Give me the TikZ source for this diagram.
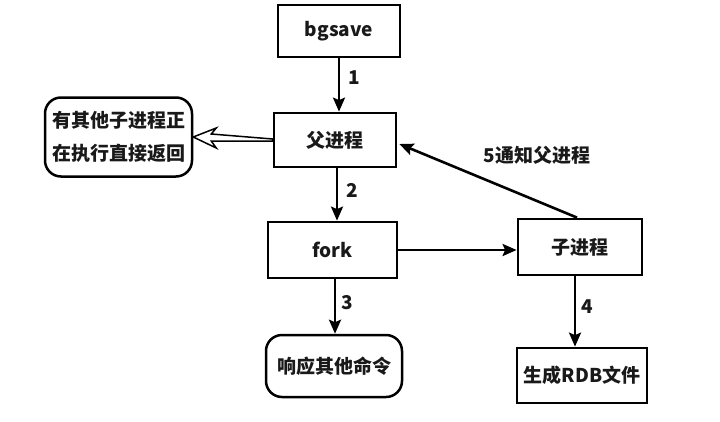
\documentclass[tikz,border=0pt]{standalone}
\usepackage{fontspec}
\setmainfont{Noto Sans CJK SC}
\usetikzlibrary{arrows.meta,calc}
\begin{document}
\begin{tikzpicture}[x=1pt,y=-1pt,
  font=\fontsize{19}{22}\selectfont\bfseries,
  txt/.style={text=black!90},
  boxn/.style={draw, line width=2.8pt, minimum width=#1, inner sep=0pt, txt},
  rbox/.style={draw, line width=2.5pt, rounded corners=16pt, inner sep=0pt, txt},
  arr/.style={line width=2.6pt, -{Stealth[length=14pt,width=12pt,inset=2.5pt]}},
  hol/.style={line width=1.5pt, line join=miter},
  num/.style={txt, inner sep=0pt}]
\useasboundingbox (0,0) rectangle (720,421);
\node[boxn=122pt, minimum height=52pt] (bgsave) at (339,31) {bgsave};
\node[boxn=122pt, minimum height=54pt] (fu) at (335,140) {父进程};
\node[boxn=129pt, minimum height=56pt] (fork) at (332.5,250) {fork};
\node[boxn=124pt, minimum height=56pt] (zi) at (580,247) {子进程};
\node[boxn=130pt, minimum height=55pt] (rdb) at (582,375.5) {生成RDB文件};
\node[rbox, minimum width=136pt, minimum height=62pt] (resp) at (334,366) {响应其他命令};
\node[rbox, minimum width=147pt, minimum height=79pt, align=left, font=\fontsize{19}{33}\selectfont\bfseries] (busy) at (118.5,137) {有其他子进程正\\在执行直接返回};
\draw[arr] (bgsave.south) -- (bgsave.south |- fu.north);
\node[num] (n1) at (354,78) {1};
\draw[arr] ([xshift=2pt]fu.south) -- ([xshift=2pt]fu.south |- fork.north);
\node[num] (n2) at (352,190) {2};
\draw[arr] ([xshift=2.5pt]fork.south) -- ([xshift=2.5pt]fork.south |- resp.north);
\node[num] (n3) at (347,303) {3};
\draw[arr] ([xshift=-5pt]zi.south) -- ([xshift=-5pt]zi.south |- rdb.north);
\node[num] (n4) at (587,307) {4};
\draw[arr] (fork.east) -- (fork.east -| zi.west);
\draw[arr] ([xshift=-3pt]zi.north) -- ([yshift=-4pt,xshift=2pt]fu.east);
\node[txt, inner sep=0pt] (n5) at (537,155) {5通知父进程};
\draw[hol] (busy.east) -- ($(busy.east)+(23,-9)$) -- ($(busy.east)+(18,-3)$)
  -- ($(fu.west)+(0,-1)$) -- ($(fu.west)+(0,1)$) -- ($(busy.east)+(18,4)$)
  -- ($(busy.east)+(23,11)$) -- cycle;
\end{tikzpicture}
\end{document}
